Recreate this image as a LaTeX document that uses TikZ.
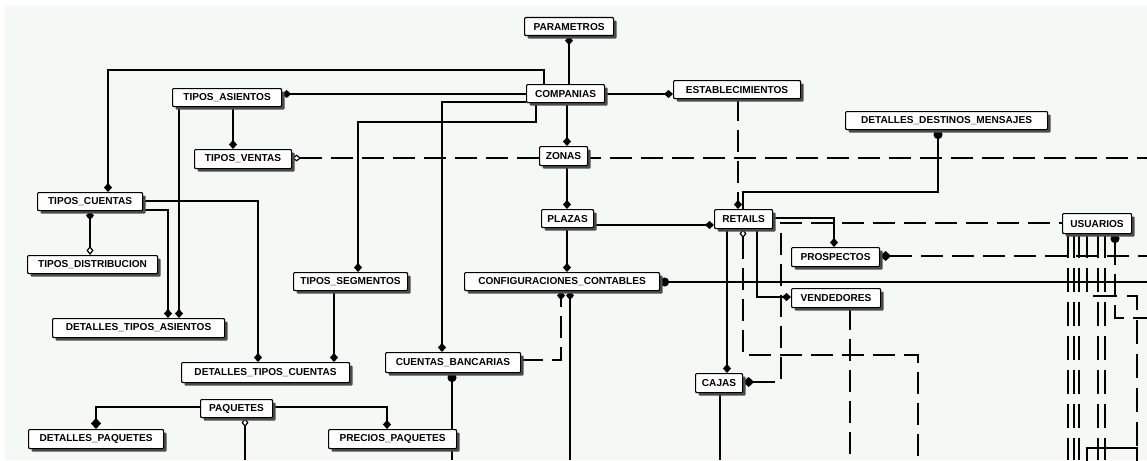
\documentclass[tikz,border=0pt]{standalone}
\usepackage{fontspec}
\setmainfont{Liberation Sans}
\usetikzlibrary{arrows.meta,shadows}
\pgfdeclarelayer{back}
\pgfdeclarelayer{links}
\pgfsetlayers{back,links,main}
\definecolor{paper}{HTML}{F4F9F5}
\tikzset{
  ent/.style={draw, fill=white, line width=1.1pt, rounded corners=1pt,
    anchor=north west, inner sep=0pt,
    font=\fontsize{10.1}{12}\selectfont\bfseries,
    drop shadow={shadow xshift=3pt, shadow yshift=-3pt, fill=black!70, opacity=1}},
  link/.style={line width=1.2pt},
  dsh/.style={link, dash pattern=on 22pt off 9pt},
  udash/.style={line width=1.1pt, dash pattern=on 24pt off 10pt},
  dia/.tip={Diamond[length=9pt,width=8pt]},
  bigdia/.tip={Diamond[length=11pt,width=10pt]},
  bigdot/.tip={Circle[length=9pt]},
  odia/.tip={Diamond[length=9pt,width=7pt,fill=white]},
}
% entity box: name, left, top, width, height, label
\newcommand\entity[6]{\node[ent, minimum width=#4pt, minimum height=#5pt] (#1) at (#2,#3) {#6};}
\begin{document}
\begin{tikzpicture}[x=1pt,y=-1pt]
\useasboundingbox (0,0) rectangle (1147,460);
\begin{pgfonlayer}{back}
  \fill[white] (0,0) rectangle (1147,460);
  \fill[paper] (5,6) rectangle (1147,460);
\end{pgfonlayer}

% entities
\entity{par}{524}{17}{89}{18}{PARAMETROS}
\entity{com}{526}{84}{78}{18}{COMPANIAS}
\entity{est}{673}{80}{127}{18}{ESTABLECIMIENTOS}
\entity{tas}{172}{88}{109}{18}{TIPOS\_ASIENTOS}
\entity{tve}{194}{149}{97}{19}{TIPOS\_VENTAS}
\entity{zon}{539}{146}{48}{19}{ZONAS}
\entity{ddm}{845}{111}{202}{18}{DETALLES\_DESTINOS\_MENSAJES}
\entity{tcu}{37}{192}{105}{18}{TIPOS\_CUENTAS}
\entity{pla}{541}{209}{52}{18}{PLAZAS}
\entity{ret}{714}{209}{58}{19}{RETAILS}
\entity{usu}{1062}{213}{69}{20}{USUARIOS}
\entity{pro}{791}{247}{88}{19}{PROSPECTOS}
\entity{tdi}{27}{255}{130}{18}{TIPOS\_DISTRIBUCION}
\entity{tse}{293}{272}{114}{18}{TIPOS\_SEGMENTOS}
\entity{cfg}{464}{272}{195}{18}{CONFIGURACIONES\_CONTABLES}
\entity{ven}{791}{288}{89}{19}{VENDEDORES}
\entity{dta}{52}{318}{172}{19}{DETALLES\_TIPOS\_ASIENTOS}
\entity{dtc}{181}{362}{168}{20}{DETALLES\_TIPOS\_CUENTAS}
\entity{cba}{385}{352}{135}{20}{CUENTAS\_BANCARIAS}
\entity{caj}{695}{373}{47}{19}{CAJAS}
\entity{paq}{200}{399}{72}{18}{PAQUETES}
\entity{dpa}{28}{429}{135}{19}{DETALLES\_PAQUETES}
\entity{ppa}{328}{429}{128}{19}{PRECIOS\_PAQUETES}

\begin{pgfonlayer}{links}
  % relationships around COMPANIAS
  \draw[link,-dia] (569,0 |- com.north) -- (569,0 |- par.south);
  \draw[link,-dia] (com.east |- 0,94) -- (est.west |- 0,94);
  \draw[link,-dia] (com.west |- 0,94) -- (tas.east |- 0,94);
  \draw[link,-dia] (544,0 |- com.north) |- (108,70) -- (108,0 |- tcu.north);
  \draw[link,-dia] (com.west |- 0,102) -| (442,0 |- cba.north);
  \draw[link,-dia] (536,0 |- com.south) |- (358,122) -- (358,0 |- tse.north);
  \draw[link,-dia] (567,0 |- com.south) -- (567,0 |- zon.north);
  \draw[link,-dia] (567,0 |- zon.south) -- (567,0 |- pla.north);
  \draw[link,-dia] (pla.east |- 0,225) -- (ret.west |- 0,225);
  \draw[link,-dia] (567,0 |- pla.south) -- (567,0 |- cfg.north);
  \draw[dsh,-dia] (738,0 |- est.south) -- (738,0 |- ret.north);
  \draw[link,bigdot-] (938,0 |- ddm.south) |- (743,192) -- (743,0 |- ret.north);
  \draw[dsh,odia-] (tve.east |- 0,158) -- (1147,158);

  % left-hand group
  \draw[link,-dia] (233,0 |- tas.south) -- (233,0 |- tve.north);
  \draw[link,-dia] (179,0 |- tas.south) -- (179,0 |- dta.north);
  \draw[link,-dia] (tcu.east |- 0,210) -| (168,0 |- dta.north);
  \draw[link,-dia] (tcu.east |- 0,201) -| (258,0 |- dtc.north);
  \draw[link,-dia] (334,0 |- tse.south) -- (334,0 |- dtc.north);
  \draw[link,dia-odia] (90,0 |- tcu.south) -- (90,0 |- tdi.north);
  \draw[link,-bigdia] (paq.west |- 0,407) -| (96,0 |- dpa.north);
  \draw[link,-dia] (paq.east |- 0,407) -| (387,0 |- ppa.north);
  \draw[link,odia-] (245,0 |- paq.south) -- (245,460);

  % accounting configuration
  \draw[dsh,-dia] (cba.east |- 0,360) -| (561,0 |- cfg.south);
  \draw[link,dia-] (570,0 |- cfg.south) -- (570,460);
  \draw[link,bigdot-] (452,0 |- cba.south) -- (452,460);
  \draw[link,bigdot-] (cfg.east |- 0,282) -- (1147,282);

  % retail outlets
  \draw[link,-dia] (ret.east |- 0,218) -| (834,0 |- pro.north);
  \draw[link,-dia] (757,0 |- ret.south) |- (ven.west |- 0,297);
  \draw[link,-dia] (727,0 |- ret.south) -- (727,0 |- caj.north);
  \draw[dsh,odia-] (743,0 |- ret.south) |- (918,355) -- (918,460);
  \draw[dsh,bigdia-] (caj.east |- 0,382) -| (781,223) -- (usu.west |- 0,223);
  \draw[dsh] (850,0 |- ven.south) -- (850,460);
  \draw[link] (720,0 |- caj.south) -- (720,460);
  \draw[dsh,bigdia-] (pro.east |- 0,256) -- (1147,256);

  % users
  \foreach \x in {1068,1074,1098,1105}
    \draw[udash] (\x,0 |- usu.south) -- (\x,460);
  \draw[udash,line width=2.4pt] (1079,0 |- usu.south) -- (1079,460);
  \draw[udash] (1087,0 |- usu.south) |- (1137,296) -- (1137,448);
  \draw[dsh,bigdot-] (1115,0 |- usu.south) |- (1147,318);
  \draw[line width=1.6pt] (1087,461) |- (1137,448) -- (1137,461);
\end{pgfonlayer}
\end{tikzpicture}
\end{document}
